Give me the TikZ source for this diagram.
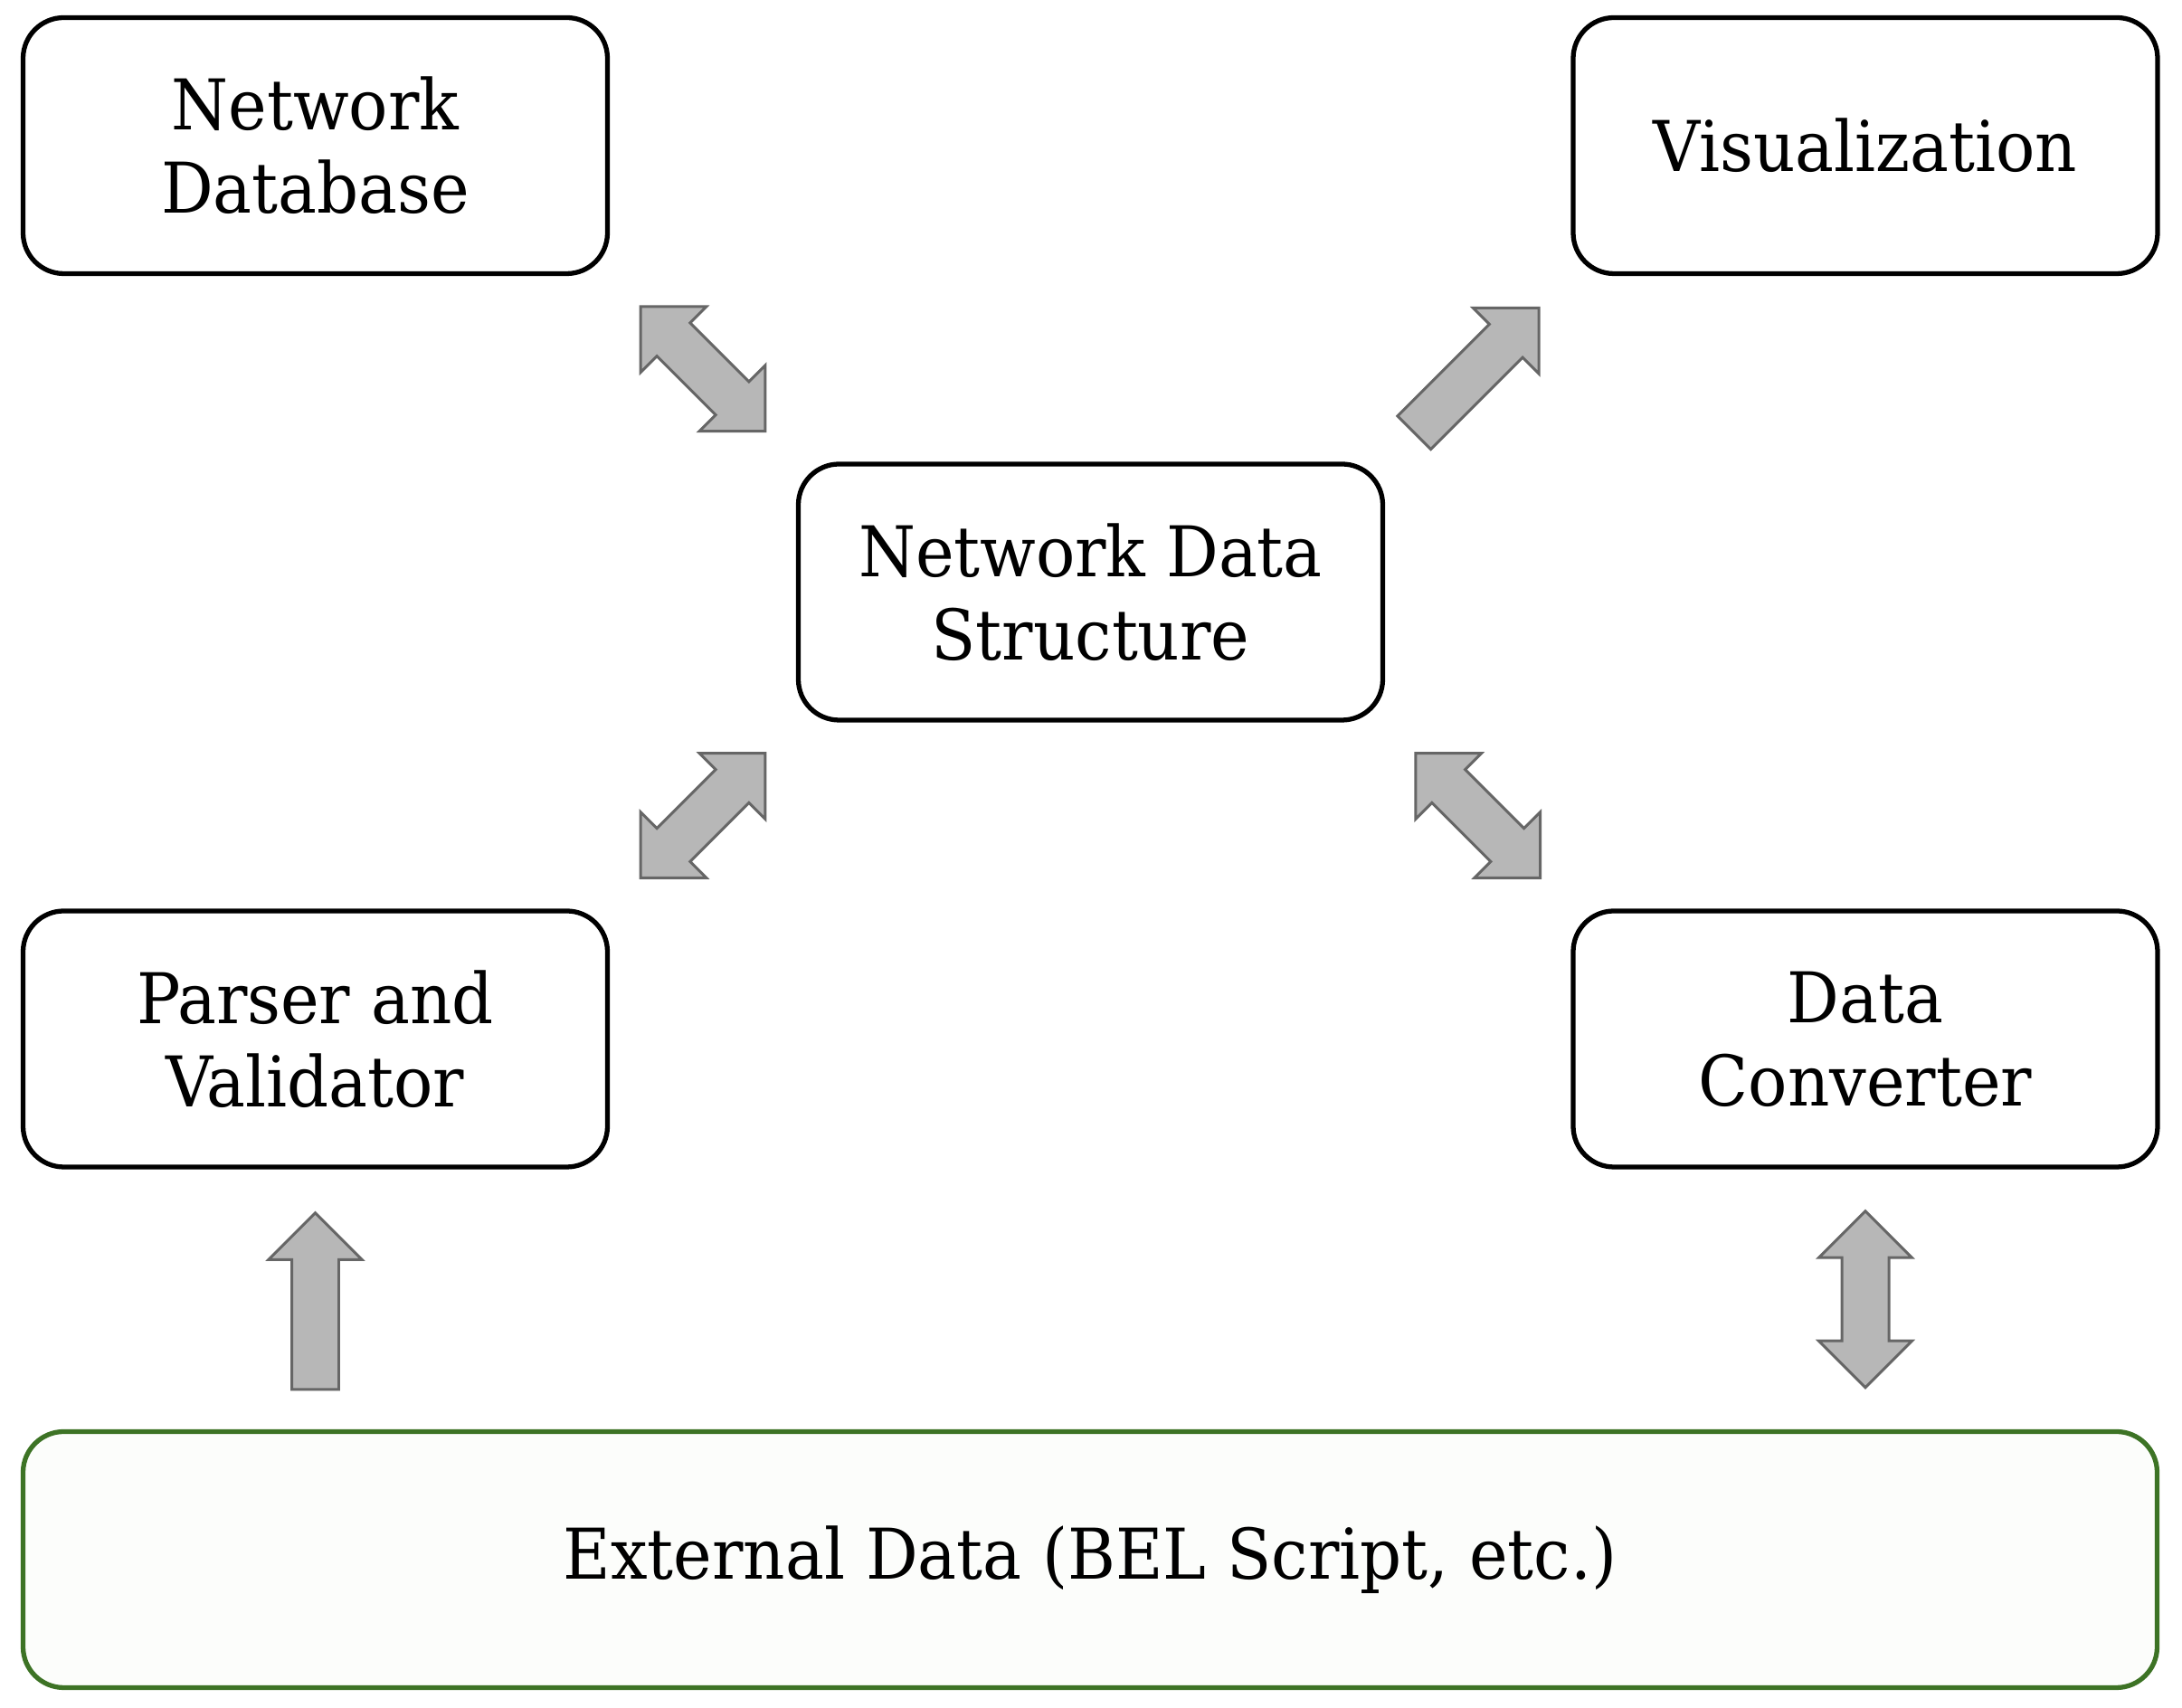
\documentclass[tikz,border=0pt]{standalone}
\usepackage{fontspec}
\setmainfont{DejaVu Serif Condensed}[FakeStretch=1.035]
\usetikzlibrary{positioning, calc, shapes.arrows}

\definecolor{arrowfill}{HTML}{B7B7B7}
\definecolor{arrowline}{HTML}{666666}
\definecolor{extline}{HTML}{3D7325}
\definecolor{extfill}{HTML}{FCFDFB}

\tikzset{
    block/.style={draw, line width=1.5pt, rounded corners=0.45cm, fill=white,
        minimum width=6.46cm, minimum height=2.83cm, inner sep=0pt, align=center,
        font=\fontsize{22pt}{26.2pt}\selectfont},
    extblock/.style={block, draw=extline, fill=extfill, minimum width=23.59cm},
    fatarrow/.style={draw=arrowline, fill=arrowfill, line width=0.85pt,
        inner xsep=0pt, inner ysep=0.245cm, minimum height=1.95cm},
    onearrow/.style={fatarrow, single arrow, single arrow head extend=0.255cm, anchor=tip},
    twoarrow/.style={fatarrow, double arrow, double arrow head extend=0.255cm}
}

\begin{document}
\begin{tikzpicture}

    \useasboundingbox (0,0) rectangle (24.12,18.88);

    % boxes
    \node[block] (ndb) at (3.485,17.27) {Network\\Database};
    \node[block] (vis) at (20.62,17.27) {Visualization};
    \node[block] (nds) at (12.055,12.335) {Network Data\\Structure};
    \node[block] (pav) at (3.485,7.395) {Parser and\\Validator};
    \node[block] (conv) at (20.62,7.395) {Data\\Converter};
    \node[extblock] (ext) at (12.05,1.64) {External Data (BEL Script, etc.)};

    % block arrows between the boxes
    \node[twoarrow, rotate=-45] (a1) at ($(ndb.south east)!0.5!(nds.north west)$) {};
    \node[onearrow, rotate=45] (a2) at ($($(nds.north east)!0.5!(vis.south west)$)+(0.689,0.689)$) {};
    \node[twoarrow, rotate=45] (a3) at ($(pav.north east)!0.5!(nds.south west)$) {};
    \node[twoarrow, rotate=-45] (a4) at ($(nds.south east)!0.5!(conv.north west)$) {};
    \node[onearrow, rotate=90] (a5) at ($($(pav.south)!0.5!(ext.north -| pav.south)$)+(0,0.975)$) {};
    \node[twoarrow, rotate=90] (a6) at ($(conv.south)!0.5!(ext.north -| conv.south)$) {};

\end{tikzpicture}
\end{document}
